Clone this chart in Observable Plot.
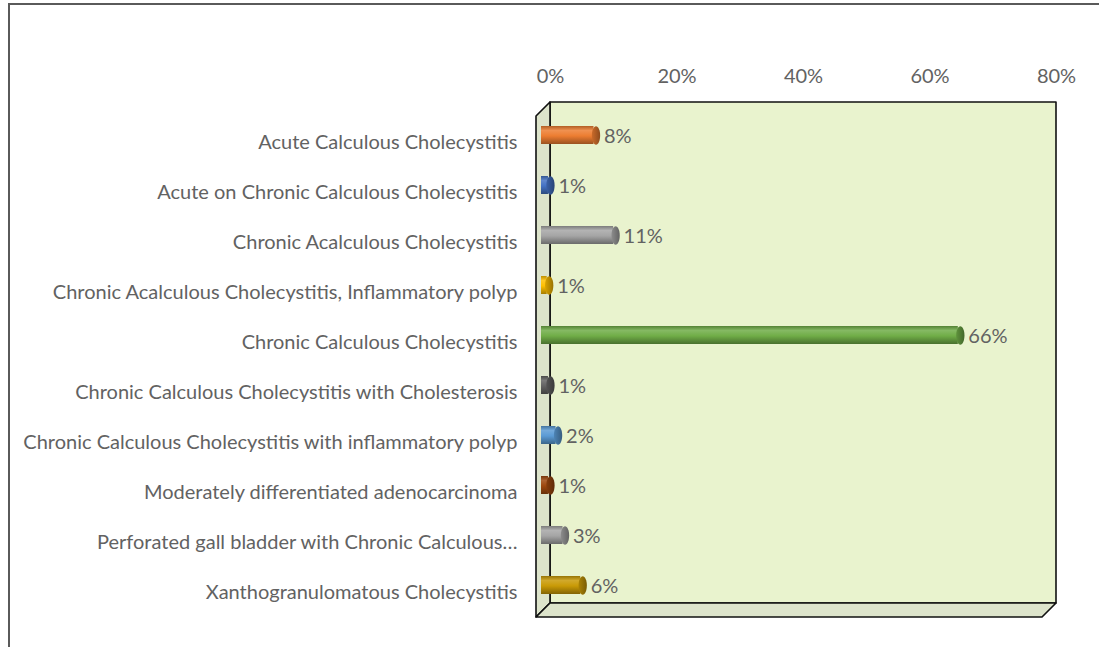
<!DOCTYPE html>
<html><head><meta charset="utf-8">
<script src="https://cdn.jsdelivr.net/npm/d3@7"></script>
<script src="https://cdn.jsdelivr.net/npm/@observablehq/plot@0.6"></script>
<style>
body{margin:0;background:#fff;}
#frame{position:absolute;left:8px;top:3px;width:1200px;height:800px;border-top:2px solid #5a5a5a;border-left:2px solid #5a5a5a;}
#chart{position:absolute;left:0;top:0;}
</style></head><body>
<div id="frame"></div><div id="chart"></div>
<script>
const categories = [
  "Acute Calculous Cholecystitis",
  "Acute on Chronic Calculous Cholecystitis",
  "Chronic Acalculous Cholecystitis",
  "Chronic Acalculous Cholecystitis, Inflammatory polyp",
  "Chronic Calculous Cholecystitis",
  "Chronic Calculous Cholecystitis with Cholesterosis",
  "Chronic Calculous Cholecystitis with inflammatory polyp",
  "Moderately differentiated adenocarcinoma",
  "Perforated gall bladder with Chronic Calculous…",
  "Xanthogranulomatous Cholecystitis"
];
const values = [8.3, 1.1, 11.4, 0.9, 65.9, 1.1, 2.3, 1.1, 3.4, 6.2];
const colors = ["#ED7D31","#4472C4","#A5A5A5","#FFC000","#70AD47","#636363","#5B9BD5","#9E480E","#A5A5A5","#C99A06"];
const xTicks = [0, 20, 40, 60, 80];
const xDomain = [0, 80];

const DEPTH = 14;
const data = categories.map((c, i) => ({cat: c, v: values[i], i}));

const ellipse = {
  draw(ctx, size) {
    const r = Math.sqrt(size / Math.PI);
    const rx = r * 0.45, ry = r, k = 0.5523;
    ctx.moveTo(rx, 0);
    ctx.bezierCurveTo(rx, ry * k, rx * k, ry, 0, ry);
    ctx.bezierCurveTo(-rx * k, ry, -rx, ry * k, -rx, 0);
    ctx.bezierCurveTo(-rx, -ry * k, -rx * k, -ry, 0, -ry);
    ctx.bezierCurveTo(rx * k, -ry, rx, -ry * k, rx, 0);
    ctx.closePath();
  }
};

function box(index, scales, values, dim) {
  const x0 = scales.x(xDomain[0]), x1 = scales.x(xDomain[1]);
  const y0 = dim.marginTop, y1 = dim.height - dim.marginBottom;
  const g = d3.create("svg:g").attr("stroke", "#111").attr("stroke-width", 1.6).attr("stroke-linejoin", "round");
  g.append("polygon").attr("fill", "#E9F3CE")
    .attr("points", [[x0,y0],[x1,y0],[x1,y1],[x0,y1]].join(" "));
  g.append("polygon").attr("fill", "#DDE4CB")
    .attr("points", [[x0,y0],[x0,y1],[x0-DEPTH,y1+DEPTH],[x0-DEPTH,y0+DEPTH]].join(" "));
  g.append("polygon").attr("fill", "#DDE4CB")
    .attr("points", [[x0,y1],[x1,y1],[x1-DEPTH,y1+DEPTH],[x0-DEPTH,y1+DEPTH]].join(" "));
  return g.node();
}

const plot = Plot.plot({
  width: 1099,
  height: 647,
  marginLeft: 550,
  marginRight: 43,
  marginTop: 102,
  marginBottom: 44,
  style: {fontFamily: "Lato, sans-serif", fontSize: "20px", color: "#626262", background: "transparent"},
  x: {domain: xDomain, label: null},
  y: {domain: categories, paddingInner: 0.64, paddingOuter: 0.32, label: null},
  color: {type: "identity"},
  marks: [
    box,
    Plot.axisX({anchor: "top", ticks: xTicks, tickFormat: d => d + "%", tickSize: 0, tickPadding: 20, fontSize: 20}),
    Plot.axisY({tickSize: 0, tickPadding: 19, dx: -DEPTH, dy: DEPTH, fontSize: 20}),
    Plot.barX(data, {x1: 0, x2: "v", y: "cat", fill: d => "url(#cyl" + d.i + ")", dx: -DEPTH/2 - 2, dy: DEPTH/2}),
    Plot.dot(data, {x: "v", y: "cat", symbol: ellipse, r: 9.2, fill: d => "url(#cap" + d.i + ")", dx: -DEPTH/2, dy: DEPTH/2}),
    Plot.text(data, {x: "v", y: "cat", text: d => Math.round(d.v) + "%", textAnchor: "start", dx: 1, dy: DEPTH/2 + 1, fontSize: 20})
  ]
});

const svg = d3.select(plot);
const defs = svg.insert("defs", ":first-child");
colors.forEach((c, i) => {
  const gr = defs.append("linearGradient").attr("id", "cyl" + i).attr("x1", 0).attr("y1", 0).attr("x2", 0).attr("y2", 1);
  gr.append("stop").attr("offset", "0%").attr("stop-color", d3.interpolateRgb(c, "#000")(0.25));
  gr.append("stop").attr("offset", "25%").attr("stop-color", d3.interpolateRgb(c, "#fff")(0.15));
  gr.append("stop").attr("offset", "55%").attr("stop-color", c);
  gr.append("stop").attr("offset", "100%").attr("stop-color", d3.interpolateRgb(c, "#000")(0.35));
  const cg = defs.append("linearGradient").attr("id", "cap" + i).attr("x1", 0).attr("y1", 0).attr("x2", 1).attr("y2", 0);
  cg.append("stop").attr("offset", "0%").attr("stop-color", d3.interpolateRgb(c, "#000")(0.15));
  cg.append("stop").attr("offset", "100%").attr("stop-color", d3.interpolateRgb(c, "#000")(0.4));
});
document.getElementById("chart").appendChild(plot);
</script>
</body></html>
